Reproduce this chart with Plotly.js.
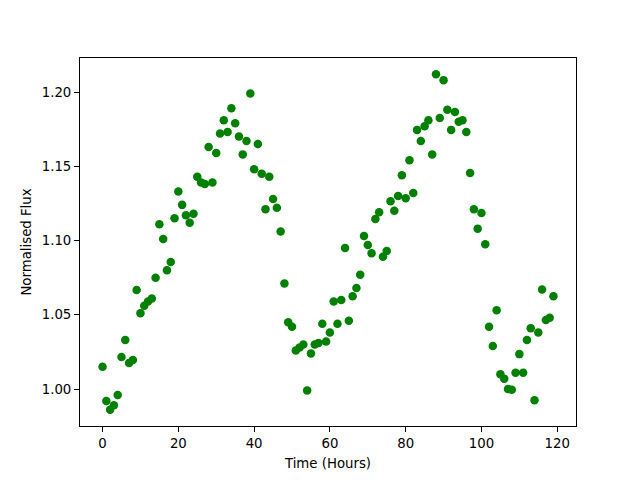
<!DOCTYPE html>
<html>
<head>
<meta charset="utf-8">
<script src="https://cdn.plot.ly/plotly-3.0.1.min.js"></script>
<style>html,body{margin:0;padding:0;background:#fff;}#chart{width:640px;height:480px;}</style>
</head>
<body>
<div id="chart"></div>
<script>
const timeHours = [];
for (let i = 0; i < 120; i++) timeHours.push(i);
const normalisedFlux = [
  1.015, 0.992, 0.986, 0.989, 0.996, 1.0215, 1.033, 1.0175, 1.0195, 1.0667,
  1.051, 1.056, 1.059, 1.061, 1.075, 1.111, 1.101, 1.080, 1.0855, 1.115,
  1.133, 1.124, 1.117, 1.112, 1.118, 1.143, 1.139, 1.138, 1.163, 1.139,
  1.159, 1.172, 1.181, 1.173, 1.189, 1.179, 1.170, 1.158, 1.167, 1.199,
  1.148, 1.165, 1.145, 1.121, 1.143, 1.128, 1.122, 1.106, 1.071, 1.045,
  1.042, 1.026, 1.028, 1.030, 0.999, 1.024, 1.030, 1.031, 1.044, 1.032,
  1.038, 1.059, 1.044, 1.060, 1.095, 1.046, 1.0625, 1.068, 1.077, 1.103,
  1.097, 1.0915, 1.1145, 1.119, 1.089, 1.093, 1.1265, 1.120, 1.130, 1.144,
  1.1285, 1.154, 1.132, 1.1745, 1.167, 1.177, 1.181, 1.158, 1.212, 1.1825,
  1.208, 1.188, 1.1745, 1.1865, 1.180, 1.181, 1.173, 1.1455, 1.121, 1.108,
  1.1185, 1.0975, 1.042, 1.029, 1.053, 1.010, 1.007, 1.000, 0.9995, 1.011,
  1.0235, 1.011, 1.033, 1.041, 0.9925, 1.038, 1.067, 1.0465, 1.048, 1.0625
];
const xTicks = [0, 20, 40, 60, 80, 100, 120];
const yTicks = [1.00, 1.05, 1.10, 1.15, 1.20];

const trace = {
  x: timeHours, y: normalisedFlux, type: 'scatter', mode: 'markers',
  marker: {color: '#008000', size: 8.5}
};
const axisCommon = {
  showline: true, mirror: true, linecolor: '#000', linewidth: 1,
  ticks: 'outside', ticklen: 5, tickwidth: 1, tickcolor: '#000',
  showgrid: false, zeroline: false,
  tickfont: {family: 'DejaVu Sans', size: 13.3, color: '#000'}
};
const layout = {
  width: 640, height: 480,
  margin: {l: 80, r: 64, t: 58, b: 54},
  paper_bgcolor: '#fff', plot_bgcolor: '#fff',
  showlegend: false,
  font: {family: 'DejaVu Sans', size: 13.3, color: '#000'},
  xaxis: Object.assign({}, axisCommon, {
    range: [-5.95, 124.95], tickvals: xTicks, ticktext: xTicks.map(String),
    title: {text: 'Time (Hours)', font: {family: 'DejaVu Sans', size: 13.3}, standoff: 8}
  }),
  yaxis: Object.assign({}, axisCommon, {
    range: [0.9751, 1.2229], tickvals: yTicks, ticktext: yTicks.map(v => v.toFixed(2)),
    title: {text: 'Normalised Flux', font: {family: 'DejaVu Sans', size: 13.3}, standoff: 7}
  })
};
Plotly.newPlot('chart', [trace], layout, {displayModeBar: false, staticPlot: true});
</script>
</body>
</html>
